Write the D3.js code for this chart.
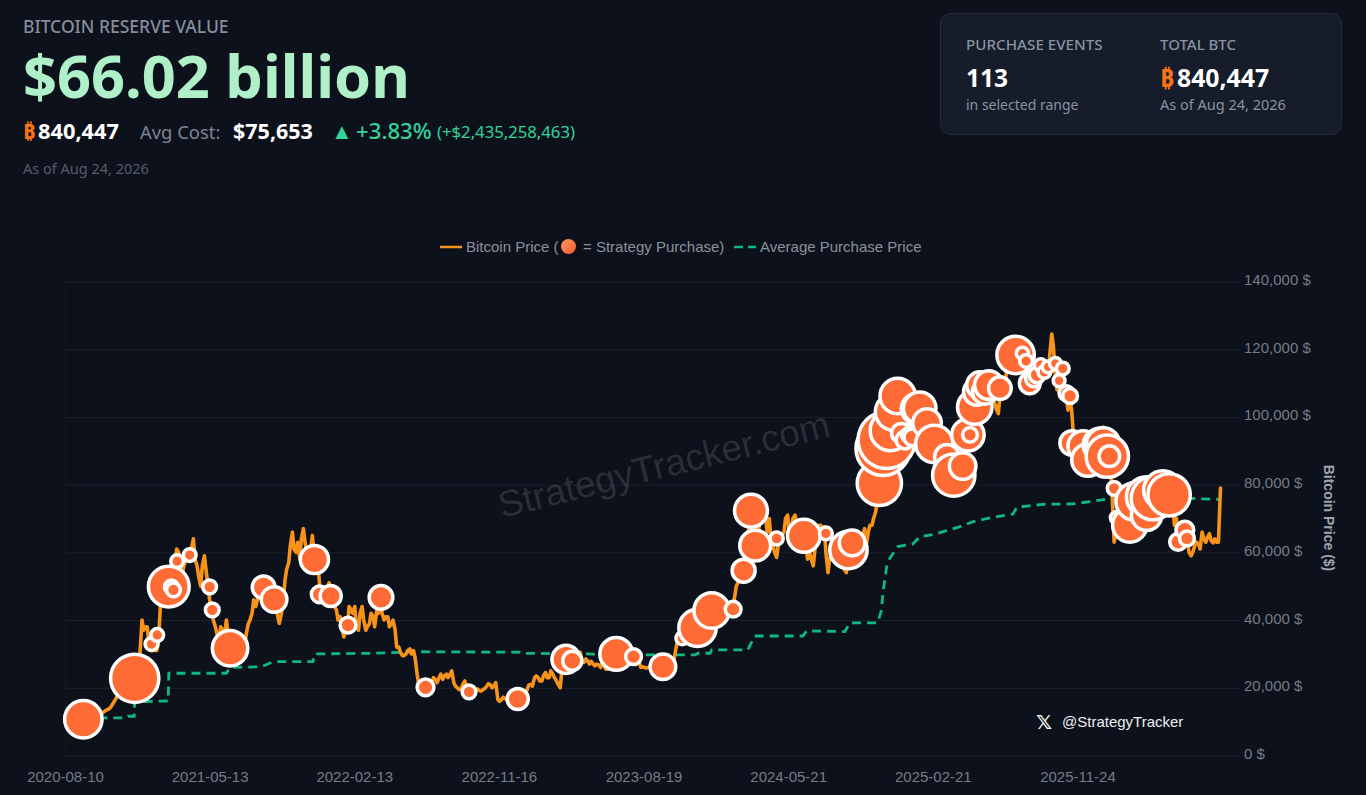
<!DOCTYPE html>
<html><head><meta charset="utf-8">
<script src="https://cdn.jsdelivr.net/npm/d3@7"></script>
<style>
html,body{margin:0;padding:0;background:#0c111b;overflow:hidden}
svg{display:block}
.h{font-family:"Noto Sans",sans-serif}
.c{font-family:"Liberation Sans",Arial,sans-serif}
</style></head><body>
<svg id="chart" width="1366" height="795"></svg>
<script>
// ---------- data ----------
const seriesStart = "2020-08-10";
const seriesEnd = "2026-08-24";
const xTickLabels = ["2020-08-10","2021-05-13","2022-02-13","2022-11-16","2023-08-19","2024-05-21","2025-02-21","2025-11-24"];
const yTicks = [0,20000,40000,60000,80000,100000,120000,140000];
// bitcoin price, thousand USD, one value every 7 days from seriesStart
const btcWeekly = [
11.4,11.6,11.5,11.6,10.5,10.7,10.6,10.7,10.8,11.3,
12.3,13.2,13.8,15.2,17.0,18.0,18.5,19,20,23,
27,40,38,32,31,31,44,50,52,56,
57,60,54,58,59,64,56,50,59,50,
43,38,34,37,40,34,31,30,31,32,
39,42,44,48,49,50,46,44,41,42,
52,57,66,60,58,67,60,61,58,56,
47,47,51,46,43,41,35,38,43,44,
37,44,37,39,41,43,47,40,41,39,
37,32,29.5,30,31.5,31,24,20,20,20.5,
21,22.5,23,22.5,24,24,21.5,20,19.5,22,
19,19.5,19.3,19.2,19.5,20.5,20.8,20.8,16.5,16.5,
16.8,17,17,16.8,16.6,17,19.5,21,23,23,
22,24.5,23,24,22,20,27,28,28,30,
30,28,28.5,27,27,27,26,26.5,25.5,26,
30,30,30,29.5,29,29,29,26,26,26,
26,26,26,26.5,27,27.5,28,34,34.5,35.5,
37,37,37.5,42,43.5,42,43,42,42,41,
42,43,43,50,52,55,62,70,68,66,
69,70,70,62,58.5,63,66,71,67,71,
68,66,62,60,56,65,68,67.5,54,60,
63,59,60,54,62,60,63,62,67,66,
68,72,80,91,97,97,100,106,94,93,
95,95,102,102,98,97,96,92,86,82,
84,86,83,78,85,88,94,94,103,105,
108,105,107,106,102,108,108,117,118,118,
114,120,116,110,109,111,115,113,112,124.5,
112,110,114,106,105,93,88,90,91,88,
88,88,93,97,89,85,63,66,68,69,
68,70,68,71,72,71,73,75,76,77,
76,78,75,70,65,64,63,59,62,62.5,
66,63,65.5,62.8,63,79
];
// price three days after each weekly value, thousand USD
const btcMidweek = [
11.5,11.6,11.3,11.2,10.4,10.9,10.7,10.6,11.0,11.4,
12.8,13.5,14.2,16.0,18.0,17.5,19.0,18.2,21,25,
30,37,38,31,31,33,47,49,55,58,
61,56,56,58,61,58,53,56,55,46,
40,36,38,35,36,33,30,32,33,36,
40,46,46,49,47,48,44,46,39,45,
55,62,61,63,64,63,57,65,60,50,
49,49,47,44,40,38,37,44,42,38,
42,40,38,42,38,42,42,41,38,40,
32,30.5,29.5,31,30,29,21,20,21,20.8,
23,21.5,24,23.5,23,25,20.5,19.5,21,20.5,
19.8,19.2,19.7,19,19.8,21.2,20,21.5,16,17.2,
16.3,17.3,16.6,17.4,16.9,18,20.8,20.5,23.5,22,
23.5,23,25,23,21,25,28.5,27.5,29,29,
30.5,27.5,28,27.8,26.5,26.8,27.3,25.5,26.5,27,
30.8,29.5,30.5,29.3,29.5,29.4,28,26.2,25.8,26.3,
25.8,26.5,26.2,27.5,26.5,28,31,34,35,34.5,
36.5,38,40,44,42,44,41.5,43,40,43,
42.5,43.5,46,51,54,58,68,69,64,69,
71,66,64,60,62,65,70,66,70,69,
65,64,58,58,61,68,66,60,58,64,
60,57,55,58,63,62,64,65,62,68,
70,75,88,94,93,98,104,98,95,94,
98,92,105,99,96,97,93,85,84,80,
83,88,80,82,84,91,96,97,104,107,
110,104,108,104,101,109,111,120,119,116,
116,122,113,108,111,113,116,112,118,121,
108,112,108,102,102,88,86,91,93,86,
90,88,91,96,90,78,65,69,70,67,
71,67,72,70,72,72,75,77,78,75,
79,73,68,62,66,62,60,60,63,61,
64,64.5,63.5,64,63
];
// average purchase price: days since seriesStart, thousand USD
const avgDay = [35,116,120,132,133,197,198,308,315,375,397,473,477,588,671,868,871,995,1112,1202,1208,1231,1234,1303,1316,1408,1415,1488,1498,1551,1558,1561,1568,1574,1589,1618,1631,1660,1682,1708,1732,1759,1809,1816,1866,1923,1956,1987,2150,2205];
const avgCost = [11.1,11.1,11.6,11.6,15.9,16.1,24.3,24.3,26,26.2,27.7,27.7,30,30.2,30.65,30.5,30.2,30,29.7,29.7,30.2,30.2,31.2,31.2,35.3,35.3,36.8,36.6,39.2,39.2,43,48.4,55.8,58.3,61.7,62.5,64.6,65.4,66.4,67.6,69,70,71.3,73.3,74.2,74.3,75,75.7,75.9,75.65];
// purchase events
const buyDate = ["2020-09-14","2020-12-21","2021-01-22","2021-02-02","2021-02-24","2021-03-01","2021-03-05","2021-03-12","2021-04-05","2021-05-13","2021-05-18","2021-06-21","2021-08-24","2021-09-13","2021-11-29","2021-12-09","2021-12-30","2022-02-01","2022-04-05","2022-06-29","2022-09-20","2022-12-22","2023-03-24","2023-04-05","2023-06-28","2023-07-31","2023-09-25","2023-11-01","2023-11-30","2023-12-27","2024-02-06","2024-02-26","2024-03-11","2024-03-19","2024-04-29","2024-06-20","2024-08-01","2024-09-13","2024-09-20",
"2024-11-11","2024-11-18","2024-11-25","2024-12-02","2024-12-09","2024-12-16","2024-12-23","2024-12-30","2025-01-06","2025-01-13","2025-01-21","2025-01-27","2025-02-10","2025-02-24","2025-03-20","2025-04-02","2025-04-19","2025-04-29","2025-05-03","2025-05-12","2025-05-16","2025-05-22","2025-05-31","2025-06-08","2025-06-29","2025-07-29",
"2025-08-11","2025-08-18","2025-08-25","2025-09-02","2025-09-08","2025-09-15","2025-09-22","2025-09-29","2025-10-13","2025-10-20","2025-10-27","2025-11-03","2025-11-10","2025-11-14","2025-12-05","2025-12-14","2026-01-06","2026-01-12","2026-01-20","2026-01-24","2026-02-02","2026-02-07","2026-03-04","2026-03-13","2026-04-05","2026-04-05","2026-04-17","2026-05-06","2026-05-18","2026-06-04","2026-06-17","2026-06-21"];
const buyPrice = [10.7,22.8,32.9,35.6,49.9,49.8,48.9,57.4,59.2,49.8,43,31.7,49.7,46.1,57.9,47.6,47.1,38.5,46.7,20.1,18.8,16.7,28.4,28,30,29.2,26.2,34.6,37.7,42.8,43.2,54.6,72.3,62,64.1,64.9,65.6,60.7,62.8,
80.4,90.7,93.2,96,101.5,106.2,95.2,93.2,94.7,94,102.4,102.6,98.2,92,88.2,82.8,85.5,94.7,94.7,102.9,107.4,109.4,107.4,109.4,108.5,118.3,
118.8,116.5,109.9,111.4,112.4,115.3,113.3,114.8,115.8,110.7,114.3,107,106.2,92.3,91.4,87.3,91.7,91.9,88.4,88.4,78.9,70.2,68.1,75,76.4,71,76,78.4,77,63.1,66.6,64.1];
const buyBtc = [13950,27630,76,76,17700,172,172,76,76,172,172,11960,2755,4305,5930,689,2070,478,3234,689,172,2070,5930,1350,9600,478,4305,76,13950,11960,478,2940,9600,7960,110,9600,76,13950,4305,
22117,37000,42300,17219,13950,11960,1500,950,306,689,7653,9260,6199,13950,3750,19592,4898,9260,306,11020,4898,4898,3750,6199,2755,13950,
40,76,1913,689,478,76,76,20,20,20,76,306,306,3750,7653,9260,10100,10100,19592,1913,172,76,11020,13950,17219,7653,20800,15000,19592,689,940,306];
// ---------- layout ----------
const svg = d3.select("#chart");
const W=1366,H=795;
const parse = d3.utcParse("%Y-%m-%d");
const t0 = parse(seriesStart);
const x = d3.scaleUtc().domain([t0,parse(seriesEnd)]).range([65,1220.5]);
const y = d3.scaleLinear().domain([0,140000]).range([755.5,281.5]);
const r = d3.scaleSqrt().domain([0,60000]).range([5.4,33]);
const day = d => d3.utcDay.offset(t0,d);

const defs = svg.append("defs");
const glow = defs.append("radialGradient").attr("id","glow").attr("cx","50%").attr("cy","0%").attr("r","60%");
glow.append("stop").attr("offset","0%").attr("stop-color","#4a1618").attr("stop-opacity",.75);
glow.append("stop").attr("offset","100%").attr("stop-color","#4a1618").attr("stop-opacity",0);
const lg = defs.append("linearGradient").attr("id","lg").attr("x1",0).attr("y1",0).attr("x2",1).attr("y2",1);
lg.append("stop").attr("offset","0%").attr("stop-color","#ff9a5c");
lg.append("stop").attr("offset","100%").attr("stop-color","#f9582f");

svg.append("rect").attr("width",W).attr("height",H).attr("fill","#0c111b");
svg.append("ellipse").attr("cx",1235).attr("cy",-6).attr("rx",115).attr("ry",12).attr("fill","url(#glow)");

// ---------- header ----------
function t(cls,xp,yp,s,size,fill,weight){
  return svg.append("text").attr("class",cls).attr("x",xp).attr("y",yp).attr("font-size",size).attr("fill",fill).attr("font-weight",weight||400).text(s);
}
t("h",23,33,"BITCOIN RESERVE VALUE",17.5,"#868d9b",500);
t("h",23,98,"$66.02 billion",59.5,"#aff0c9",700);
t("h",23,139,"₿",21.5,"#f97316",700);
t("h",38,139,"840,447",21.8,"#ffffff",700);
t("h",140,139,"Avg Cost:",18.4,"#7d8594",400);
t("h",233,139,"$75,653",21.5,"#ffffff",700);
t("h",331,139,"▲",22,"#34d399",400);
t("h",356,139,"+3.83%",22.2,"#34d399",500);
t("h",437,138,"(+$2,435,258,463)",16.7,"#34d399",400);
t("h",23,174,"As of Aug 24, 2026",14.5,"#565d6a",400);

// ---------- stat card ----------
svg.append("rect").attr("x",940.5).attr("y",13.5).attr("width",401).attr("height",121).attr("rx",10).attr("fill","#161c29").attr("stroke","#252c39");
t("h",966,50,"PURCHASE EVENTS",15.2,"#8a93a2",500);
t("h",966,87,"113",24.5,"#ffffff",700);
t("h",966,110,"in selected range",14,"#8a93a2",400);
t("h",1160,50,"TOTAL BTC",15,"#8a93a2",500);
t("h",1160,87,"₿",24.5,"#f97316",700);
t("h",1177,87,"840,447",24.8,"#ffffff",700);
t("h",1160,110,"As of Aug 24, 2026",14.5,"#8a93a2",400);

// ---------- legend ----------
const ly=247;
svg.append("line").attr("x1",440).attr("x2",462).attr("y1",ly).attr("y2",ly).attr("stroke","#f7931a").attr("stroke-width",2.5);
t("c",466,ly+5,"Bitcoin Price (",15,"#8b919c");
svg.append("circle").attr("cx",568.5).attr("cy",ly-0.5).attr("r",7.5).attr("fill","url(#lg)");
t("c",583,ly+5,"= Strategy Purchase)",15,"#8b919c");
svg.append("line").attr("x1",734).attr("x2",756).attr("y1",ly).attr("y2",ly).attr("stroke","#10b981").attr("stroke-width",2.5).attr("stroke-dasharray","9 5");
t("c",760,ly+5,"Average Purchase Price",15,"#8b919c");

// ---------- axes ----------
const xTicks = xTickLabels.map(parse).concat([parse(seriesEnd)]);
const gx = svg.append("g").attr("transform","translate(0,755.5)").call(
  d3.axisBottom(x).tickValues(xTicks).tickFormat(d=>{const s=d3.utcFormat("%Y-%m-%d")(d);return xTickLabels.includes(s)?s:"";}).tickSize(9).tickPadding(7));
gx.select(".domain").remove();
gx.selectAll(".tick line").attr("y1",-474).attr("y2",9).attr("stroke","#121722");
gx.selectAll(".tick").filter(d=>+d===+parse(seriesEnd)).select("line").attr("y2",0);
gx.selectAll("text").attr("class","c").attr("font-size",15).attr("fill","#767c86");

const gy = svg.append("g").attr("transform","translate(1240,0)").call(
  d3.axisRight(y).tickValues(yTicks).tickFormat(d=>d3.format(",")(d)+" $").tickSize(0).tickPadding(4));
gy.select(".domain").remove();
gy.selectAll(".tick line").attr("x1",-1175).attr("x2",0).attr("stroke","#1b212d");
gy.selectAll("text").attr("class","c").attr("font-size",15).attr("fill","#767c86").attr("dy","0.2em");

svg.append("text").attr("class","c").attr("transform","translate(1324,518) rotate(90)").attr("text-anchor","middle")
  .attr("font-size",14).attr("font-weight",700).attr("fill","#a0a5ad").text("Bitcoin Price ($)");

// ---------- watermark ----------
svg.append("text").attr("class","c").attr("transform","translate(667,477) rotate(-14)").attr("text-anchor","middle")
  .attr("font-size",37).attr("fill","#ffffff").attr("fill-opacity",.13).text("StrategyTracker.com");

// ---------- series ----------
const line = d3.line().x(d=>x(d.t)).y(d=>y(d.v*1000)).curve(d3.curveLinear);
svg.append("path").datum(avgDay.map((d,i)=>({t:day(d),v:avgCost[i]}))).attr("d",line)
  .attr("fill","none").attr("stroke","#10b981").attr("stroke-width",2.8).attr("stroke-dasharray","9 6");
const pricePts = btcWeekly.flatMap((v,i)=> i<btcMidweek.length ? [{t:day(i*7),v},{t:day(i*7+3),v:btcMidweek[i]}] : [{t:day(i*7),v}]);
svg.append("path").datum(pricePts).attr("d",line)
  .attr("fill","none").attr("stroke","#f7931a").attr("stroke-width",3.6).attr("stroke-linejoin","round").attr("stroke-linecap","round");

svg.append("g").selectAll("circle").data(buyDate.map((d,i)=>({t:parse(d),p:buyPrice[i],b:buyBtc[i]}))).join("circle")
  .attr("cx",d=>x(d.t)).attr("cy",d=>y(d.p*1000)).attr("r",d=>r(d.b))
  .attr("fill","#ff6b35").attr("stroke","#ffffff").attr("stroke-width",3.5);

// ---------- handle ----------
svg.append("text").attr("x",1044).attr("y",729).attr("text-anchor","middle").attr("font-family","DejaVu Sans").attr("font-size",20).attr("font-weight",700).attr("fill","#ffffff").text("𝕏");
t("c",1062,727,"@StrategyTracker",15,"#eceef1");
</script>
</body></html>
